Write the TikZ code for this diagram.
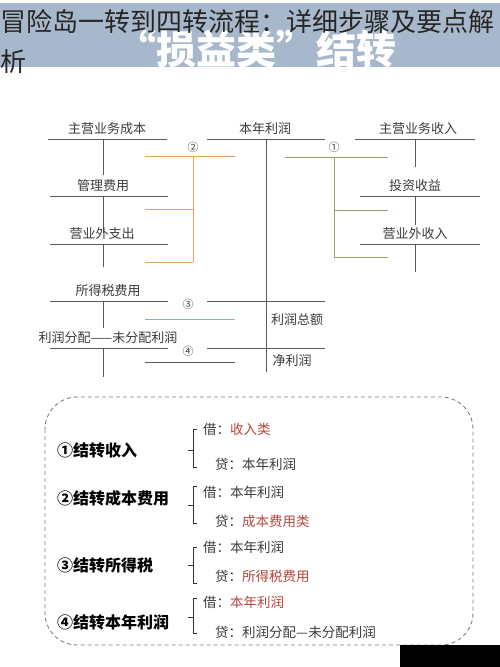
\documentclass[tikz,border=0pt]{standalone}
\usepackage{fontspec}
\setmainfont{Noto Sans CJK SC}
\usetikzlibrary{positioning}
\definecolor{bandblue}{RGB}{168,184,204}
\definecolor{txtgray}{RGB}{60,60,60}
\definecolor{linegray}{RGB}{90,90,90}
\definecolor{costorange}{RGB}{226,164,110}
\definecolor{incgreen}{RGB}{150,163,105}
\definecolor{taxblue}{RGB}{140,176,205}
\definecolor{accred}{RGB}{181,72,60}
\newcommand{\hl}[1]{\textcolor{accred}{#1}}

\begin{document}
\begin{tikzpicture}[x=1pt, y=-1pt,
    lbl/.style={font=\fontsize{13}{15}\selectfont, text=txtgray, inner sep=0pt},
    num/.style={font=\fontsize{11}{13}\selectfont, text=txtgray, inner sep=0pt},
    tline/.style={draw=linegray, line width=0.8pt},
    head/.style={anchor=west, font=\fontsize{16}{18}\selectfont\bfseries, inner sep=0pt},
    entry/.style={anchor=west, font=\fontsize{13.5}{15}\selectfont, text=txtgray, inner sep=0pt},
    brk/.style={draw=black!80, line width=0.7pt},
    dashbox/.style={draw=gray, line width=0.9pt, dash pattern=on 4pt off 3pt, rounded corners=32pt}
  ]
  \useasboundingbox (0,0) rectangle (500,667);
  \fill[white] (0,0) rectangle (500,667);

  % title band
  \fill[bandblue] (0,3) rectangle (500,67);
  \node[font=\fontsize{40}{42}\selectfont\bfseries, text=white] (subtitle) at (256,49) {“损益类”结转};
  \node[anchor=west, font=\fontsize{26}{30}\selectfont, inner sep=0pt, text=black!85] (title) at (0,22)
    {冒险岛一转到四转流程：详细步骤及要点解};
  \node[anchor=west, font=\fontsize{26}{30}\selectfont, inner sep=0pt, text=black!85] (titleb) at (0,62) {析};

  % T accounts: name / label x / line y / left / right / stem x / stem end / text
  \foreach \nm/\lx/\yl/\xa/\xb/\vx/\vb/\txt in {
      zycb/107/139/48/167/103/175/主营业务成本,
      glfy/103/196/50/168/103/233/管理费用,
      yywzc/102/244/50/168/103/267/营业外支出,
      sdsfy/108/301/50/168/103/328/所得税费用,
      lrfp/108/348/50/168/103/377/利润分配——未分配利润,
      bnlr/265/139/207/325/266/372/本年利润,
      zysr/418/139/355/475/415/167/主营业务收入,
      tzsy/415/196/360/480/415/225/投资收益,
      yywsr/415/244/360/480/415/272/营业外收入} {
    \node[lbl] (\nm) at (\lx,\yl-10) {\txt};
    \draw[tline] (\xa,\yl) -- (\xb,\yl);
    \draw[tline] (\vx,\yl) -- (\vx,\vb);
  }
  \draw[tline] (207,301) -- (325,301);
  \draw[tline] (207,348) -- (325,348);
  \node[lbl] (lrze) at (297,320) {利润总额};
  \node[lbl] (jlr) at (292,361) {净利润};

  % step 2: costs
  \node[num] (n2) at (193,147) {②};
  \draw[costorange, line width=0.9pt] (145,156) -- (235,156) (193,156) -- (193,262)
    (145,209) -- (193,209) (145,262) -- (193,262);
  % step 1: income
  \node[num] (n1) at (334,147) {①};
  \draw[incgreen, line width=0.9pt] (285,157) -- (388,157) (334,157) -- (334,257)
    (334,210) -- (388,210) (334,257) -- (388,257);
  % step 3 and 4
  \node[num] (n3) at (188,304) {③};
  \draw[taxblue, line width=0.9pt] (145,319) -- (235,319);
  \node[num] (n4) at (188,351) {④};
  \draw[linegray, line width=0.9pt] (145,362) -- (235,362);

  % summary box
  \draw[dashbox] (45,397) rectangle (473,645);
  \foreach \i/\yh/\yt/\ym/\yb/\yj/\yd/\htxt/\jtxt/\dtxt in {
      1/450/429/450/467/429/464/①结转收入/借：\hl{收入类}/贷：本年利润,
      2/498/486/505/523/492/521/②结转成本费用/借：本年利润/贷：\hl{成本费用类},
      3/565/547/565/583/547/576/③结转所得税/借：本年利润/贷：\hl{所得税费用},
      4/622/598/617/633/602/632/④结转本年利润/借：\hl{本年利润}/贷：利润分配—未分配利润} {
    \node[head] (head\i) at (57,\yh) {\htxt};
    \node[entry] (jie\i) at (203,\yj) {\jtxt};
    \node[entry] (dai\i) at (215,\yd) {\dtxt};
    \draw[brk] (197,\yt) -- (193,\yt) -- (193,\yb) -- (197,\yb);
    \draw[brk] (188,\ym) -- (193,\ym);
  }

  \fill[black] (400,645) rectangle (500,667);
\end{tikzpicture}
\end{document}
